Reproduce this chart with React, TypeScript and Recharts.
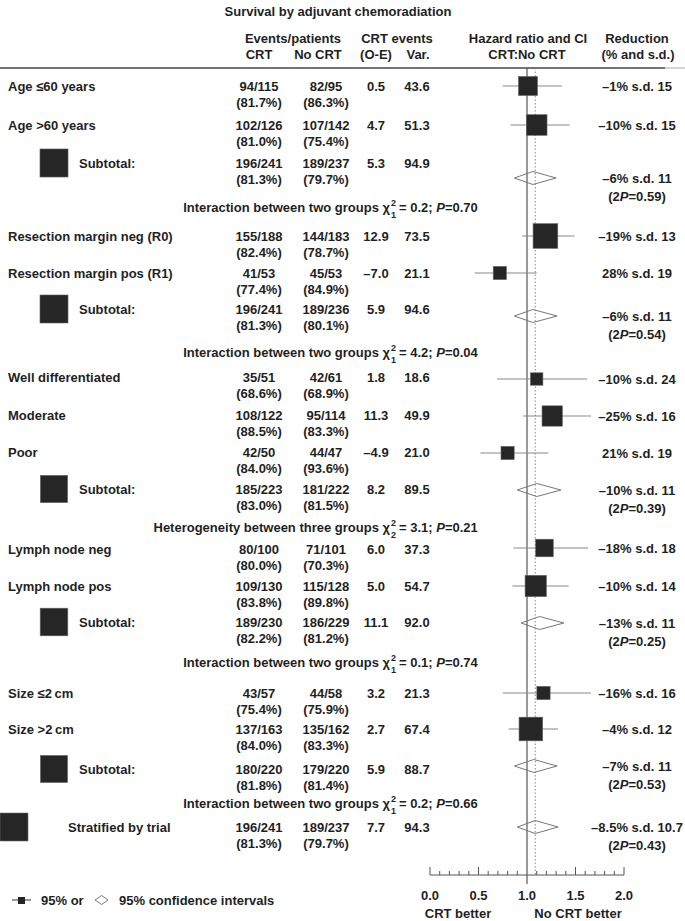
import React from 'react';
import { ComposedChart, XAxis, YAxis, Scatter, ReferenceLine, Customized } from 'recharts';

const WIDTH = 685;
const HEIGHT = 921;
const AXIS_Y = 875;
const FONT = '"Liberation Sans", Arial, Helvetica, sans-serif';
const INK = '#1f1f1f';

// one entry per row of the table
const rowLabels = [
  'Age ≤60 years', 'Age >60 years', 'Subtotal:',
  'Resection margin neg (R0)', 'Resection margin pos (R1)', 'Subtotal:',
  'Well differentiated', 'Moderate', 'Poor', 'Subtotal:',
  'Lymph node neg', 'Lymph node pos', 'Subtotal:',
  'Size ≤2\u2009cm', 'Size >2\u2009cm', 'Subtotal:',
  'Stratified by trial',
];
const rowKinds = ['row', 'row', 'sub', 'row', 'row', 'sub', 'row', 'row', 'row', 'sub', 'row', 'row', 'sub', 'row', 'row', 'sub', 'total'];
const crtEvents = ['94/115', '102/126', '196/241', '155/188', '41/53', '196/241', '35/51', '108/122', '42/50', '185/223', '80/100', '109/130', '189/230', '43/57', '137/163', '180/220', '196/241'];
const crtPct = ['81.7%', '81.0%', '81.3%', '82.4%', '77.4%', '81.3%', '68.6%', '88.5%', '84.0%', '83.0%', '80.0%', '83.8%', '82.2%', '75.4%', '84.0%', '81.8%', '81.3%'];
const noCrtEvents = ['82/95', '107/142', '189/237', '144/183', '45/53', '189/236', '42/61', '95/114', '44/47', '181/222', '71/101', '115/128', '186/229', '44/58', '135/162', '179/220', '189/237'];
const noCrtPct = ['86.3%', '75.4%', '79.7%', '78.7%', '84.9%', '80.1%', '68.9%', '83.3%', '93.6%', '81.5%', '70.3%', '89.8%', '81.2%', '75.9%', '83.3%', '81.4%', '79.7%'];
const oMinusE = ['0.5', '4.7', '5.3', '12.9', '–7.0', '5.9', '1.8', '11.3', '–4.9', '8.2', '6.0', '5.0', '11.1', '3.2', '2.7', '5.9', '7.7'];
const variance = [43.6, 51.3, 94.9, 73.5, 21.1, 94.6, 18.6, 49.9, 21.0, 89.5, 37.3, 54.7, 92.0, 21.3, 67.4, 88.7, 94.3];
const reduction = ['–1% s.d. 15', '–10% s.d. 15', '–6% s.d. 11', '–19% s.d. 13', '28% s.d. 19', '–6% s.d. 11', '–10% s.d. 24', '–25% s.d. 16', '21% s.d. 19', '–10% s.d. 11', '–18% s.d. 18', '–10% s.d. 14', '–13% s.d. 11', '–16% s.d. 16', '–4% s.d. 12', '–7% s.d. 11', '–8.5% s.d. 10.7'];
const twoP = ['', '', '0.59', '', '', '0.54', '', '', '', '0.39', '', '', '0.25', '', '', '0.53', '0.43'];
const hazardRatio = [1.01, 1.10, 1.06, 1.19, 0.72, 1.06, 1.10, 1.26, 0.80, 1.10, 1.18, 1.09, 1.13, 1.17, 1.04, 1.07, 1.085];
const ciLow = [0.75, 0.83, 0.87, 0.95, 0.46, 0.87, 0.69, 0.96, 0.52, 0.90, 0.86, 0.85, 0.94, 0.75, 0.81, 0.87, 0.90];
const ciHigh = [1.36, 1.44, 1.30, 1.49, 1.10, 1.31, 1.62, 1.66, 1.22, 1.35, 1.63, 1.43, 1.38, 1.66, 1.32, 1.31, 1.32];
const overallHR = 1.085;

// heterogeneity / interaction tests
const testText = ['Interaction between two groups', 'Interaction between two groups', 'Heterogeneity between three groups', 'Interaction between two groups', 'Interaction between two groups'];
const testDf = ['1', '1', '2', '1', '1'];
const testChi = ['0.2', '4.2', '3.1', '0.1', '0.2'];
const testP = ['0.70', '0.04', '0.21', '0.74', '0.66'];

const axisTicks = [0, 0.1, 0.2, 0.3, 0.4, 0.5, 0.6, 0.7, 0.8, 0.9, 1, 1.1, 1.2, 1.3, 1.4, 1.5, 1.6, 1.7, 1.8, 1.9, 2];
const majorTicks = [0, 0.5, 1, 1.5, 2];

// vertical layout (y axis is in pixels)
const rowY = [86, 125, 163, 236, 273, 309, 377, 415, 452, 489, 549, 586, 622, 693, 729, 769, 827];
const markY = [86, 125, 178, 236, 273, 316, 379, 416, 453, 490, 548, 586, 623, 693, 729, 766, 827];
const testY = [207, 352, 527, 662, 803];

const col = { label: 8, subLabel: 79, totalLabel: 68, crt: 259, noCrt: 326, oe: 376, v: 417, red: 637 };

const sideFor = (v: number) => 2.88 * Math.sqrt(v);

const T = ({ x, y, children, anchor = 'middle', size = 13 }: any) => (
  <text x={x} y={y + 4.6} textAnchor={anchor} fontFamily={FONT} fontSize={size} fontWeight="bold" fill={INK}>
    {children}
  </text>
);

const TextLayer = () => (
  <g>
    <T x={338} y={11}>Survival by adjuvant chemoradiation</T>
    <T x={293} y={38}>Events/patients</T>
    <T x={259} y={54}>CRT</T>
    <T x={318} y={54}>No CRT</T>
    <T x={397} y={38}>CRT events</T>
    <T x={376} y={54}>(O-E)</T>
    <T x={418} y={54}>Var.</T>
    <T x={528} y={38}>Hazard ratio and CI</T>
    <T x={527} y={54}>CRT:No CRT</T>
    <T x={637} y={38}>Reduction</T>
    <T x={638} y={54}>(% and s.d.)</T>
    <line x1={0} x2={665} y1={68} y2={68} stroke="#444" strokeWidth={1.3} />
    <line x1={665} x2={685} y1={68} y2={68} stroke="#bbb" strokeWidth={1.3} />

    {rowLabels.map((lab, i) => {
      const y = rowY[i];
      const kind = rowKinds[i];
      const s = sideFor(variance[i]);
      const lx = kind === 'row' ? col.label : kind === 'sub' ? col.subLabel : col.totalLabel;
      const bx = kind === 'sub' ? 54 : 14;
      return (
        <g key={i}>
          {kind !== 'row' && (
            <rect x={bx - s / 2} y={y - s / 2} width={s} height={s} fill="#262626" stroke="#666" strokeWidth={0.6} />
          )}
          <T x={lx} y={y} anchor="start">{lab}</T>
          <T x={col.crt} y={y}>{crtEvents[i]}</T>
          <T x={col.crt} y={y + 16}>({crtPct[i]})</T>
          <T x={col.noCrt} y={y}>{noCrtEvents[i]}</T>
          <T x={col.noCrt} y={y + 16}>({noCrtPct[i]})</T>
          <T x={col.oe} y={y}>{oMinusE[i]}</T>
          <T x={col.v} y={y}>{variance[i].toFixed(1)}</T>
          <T x={col.red} y={markY[i]}>{reduction[i]}</T>
          {twoP[i] && (
            <T x={col.red} y={markY[i] + 18}>
              (2<tspan fontStyle="italic">P</tspan>={twoP[i]})
            </T>
          )}
        </g>
      );
    })}

    {testText.map((t, i) => {
      const y = testY[i];
      return (
        <g key={'t' + i}>
          <T x={390} y={y} anchor="end">{t} χ</T>
          <T x={391} y={y - 6} anchor="start" size={9}>2</T>
          <T x={391} y={y + 6} anchor="start" size={9}>{testDf[i]}</T>
          <T x={399} y={y} anchor="start">
            = {testChi[i]}; <tspan fontStyle="italic">P</tspan>={testP[i]}
          </T>
        </g>
      );
    })}

    {/* legend */}
    <line x1={12} x2={31} y1={900} y2={900} stroke="#555" strokeWidth={1.2} />
    <rect x={18} y={897} width={7} height={7} fill="#262626" />
    <T x={41} y={900} anchor="start">95% or</T>
    <polygon points="95,900 101.5,895.5 108,900 101.5,904.5" fill="none" stroke="#777" strokeWidth={1} />
    <T x={119} y={900} anchor="start">95% confidence intervals</T>

    <T x={458} y={913}>CRT better</T>
    <T x={578} y={913}>No CRT better</T>
  </g>
);

const AxisTick = (props: any) => {
  const { x, y, payload } = props;
  const v = payload.value;
  const major = majorTicks.some((m) => Math.abs(m - v) < 1e-6);
  const isOne = Math.abs(v - 1) < 1e-6;
  return (
    <g>
      {!isOne && <line x1={x} x2={x} y1={y} y2={y - (major ? 8 : 4)} stroke="#555" strokeWidth={1} />}
      {major && (
        <text x={x} y={y + 25} textAnchor="middle" fontFamily={FONT} fontSize={13} fontWeight="bold" fill={INK}>
          {v.toFixed(1)}
        </text>
      )}
    </g>
  );
};

const SquareShape = (p: any) => {
  const s = sideFor(p.payload.v);
  return <rect x={p.cx - s / 2} y={p.cy - s / 2} width={s} height={s} fill="#262626" stroke="#666" strokeWidth={0.6} />;
};

const NoDot = () => <g />;

export default function App() {
  const rowIdx = rowKinds.map((k, i) => (k === 'row' ? i : -1)).filter((i) => i >= 0);
  const diamondIdx = rowKinds.map((k, i) => (k !== 'row' ? i : -1)).filter((i) => i >= 0);
  const squares = rowIdx.map((i) => ({ x: hazardRatio[i], y: markY[i], v: variance[i] }));

  return (
    <div style={{ width: WIDTH, height: HEIGHT, background: '#fff' }}>
      <style>{'body{margin:0}'}</style>
      <ComposedChart width={WIDTH} height={HEIGHT} margin={{ top: 0, right: 61, bottom: 0, left: 430 }}>
        <XAxis
          type="number"
          dataKey="x"
          domain={[0, 2]}
          ticks={axisTicks}
          interval={0}
          tickSize={0}
          tickMargin={0}
          tickLine={false}
          height={HEIGHT - AXIS_Y}
          axisLine={{ stroke: '#555', strokeWidth: 1 }}
          tick={<AxisTick />}
        />
        <YAxis type="number" dataKey="y" domain={[0, AXIS_Y]} reversed hide />
        <Customized component={TextLayer} />

        <ReferenceLine
          segment={[{ x: 1, y: 68 }, { x: 1, y: AXIS_Y + 9 }]}
          stroke="#555"
          strokeWidth={1.2}
          ifOverflow="visible"
        />
        <ReferenceLine
          segment={[{ x: overallHR, y: 68 }, { x: overallHR, y: AXIS_Y }]}
          stroke="#888"
          strokeWidth={1}
          strokeDasharray="1.5 2"
          ifOverflow="visible"
        />

        {rowIdx.map((i) => (
          <ReferenceLine
            key={'ci' + i}
            segment={[{ x: ciLow[i], y: markY[i] }, { x: ciHigh[i], y: markY[i] }]}
            stroke="#8a8a8a"
            strokeWidth={1.2}
          />
        ))}

        {diamondIdx.map((i) => (
          <Scatter
            key={'d' + i}
            data={[
              { x: ciLow[i], y: markY[i] },
              { x: hazardRatio[i], y: markY[i] - 6.5 },
              { x: ciHigh[i], y: markY[i] },
              { x: hazardRatio[i], y: markY[i] + 6.5 },
              { x: ciLow[i], y: markY[i] },
            ]}
            line={{ stroke: '#777', strokeWidth: 1 }}
            shape={NoDot}
            isAnimationActive={false}
          />
        ))}

        <Scatter data={squares} shape={SquareShape} isAnimationActive={false} />
      </ComposedChart>
    </div>
  );
}
